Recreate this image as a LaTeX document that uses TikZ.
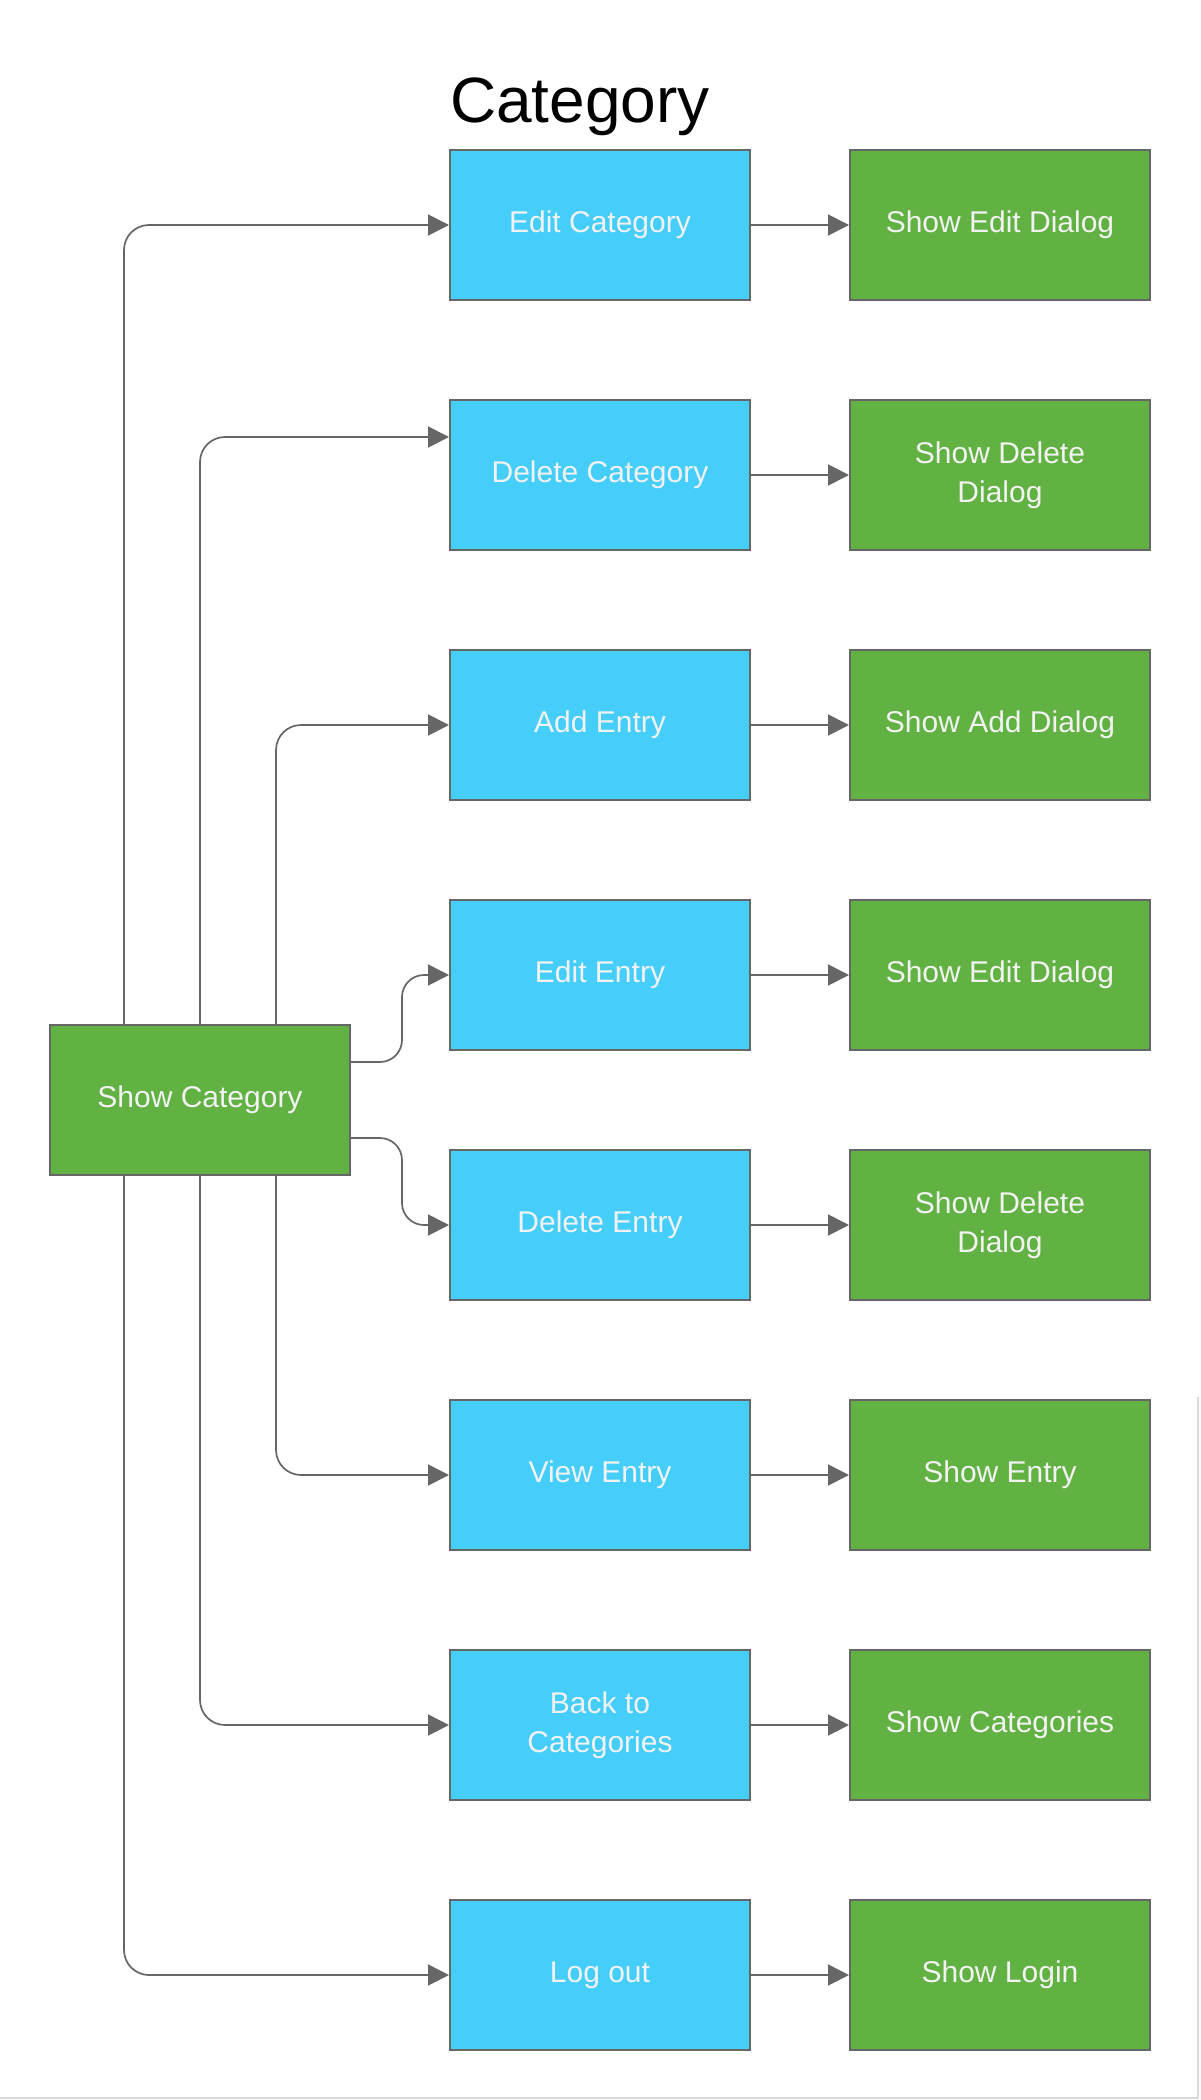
\documentclass[tikz,border=0pt]{standalone}
\usepackage{fontspec}
\setmainfont{Liberation Sans}
\usetikzlibrary{arrows.meta,calc}
\definecolor{bluefill}{HTML}{45CEF9}
\definecolor{greenfill}{HTML}{62B143}
\definecolor{edgegray}{HTML}{666666}
\definecolor{txt}{HTML}{F2F2F2}
\definecolor{framegray}{HTML}{DADADA}
\begin{document}
\begin{tikzpicture}[x=1pt,y=-1pt,
  box/.style={draw=edgegray, line width=2pt, minimum width=300pt, minimum height=150pt,
    inner sep=0pt, text=txt, font=\fontsize{30}{39}\selectfont, align=center, anchor=north west},
  act/.style={box, fill=bluefill},
  res/.style={box, fill=greenfill},
  conn/.style={draw=edgegray, line width=1.7pt, -{Triangle[length=21pt,width=21pt]}, rounded corners=25pt}]
\fill[white] (0,0) rectangle (1200,2100);
\useasboundingbox (0,0) rectangle (1200,2100);

\node[anchor=base, font=\fontsize{64}{70}\selectfont] (title) at (580,123) {Category};

\node[res] (sc) at (49,1024) {Show Category};

\node[act] (ec) at (449,149) {Edit Category};
\node[act] (dc) at (449,399) {Delete Category};
\node[act] (ae) at (449,649) {Add Entry};
\node[act] (ee) at (449,899) {Edit Entry};
\node[act] (de) at (449,1149) {Delete Entry};
\node[act] (ve) at (449,1399) {View Entry};
\node[act] (bc) at (449,1649) {Back to\\Categories};
\node[act] (lo) at (449,1899) {Log out};

\node[res] (sec) at (849,149) {Show Edit Dialog};
\node[res] (sdc) at (849,399) {Show Delete\\Dialog};
\node[res] (sad) at (849,649) {Show Add Dialog};
\node[res] (see) at (849,899) {Show Edit Dialog};
\node[res] (sde) at (849,1149) {Show Delete\\Dialog};
\node[res] (sen) at (849,1399) {Show Entry};
\node[res] (scs) at (849,1649) {Show Categories};
\node[res] (sl) at (849,1899) {Show Login};

\draw[conn] ([xshift=75pt]sc.north west) |- (ec.west);
\draw[conn] (sc.north) |- ($(dc.north west)!0.25!(dc.south west)$);
\draw[conn] ([xshift=-75pt]sc.north east) |- (ae.west);
\draw[conn, rounded corners=22pt] ($(sc.north east)!0.25!(sc.south east)$) -- ++(51,0) |- (ee.west);
\draw[conn, rounded corners=22pt] ($(sc.north east)!0.75!(sc.south east)$) -- ++(51,0) |- (de.west);
\draw[conn] ([xshift=-75pt]sc.south east) |- (ve.west);
\draw[conn] (sc.south) |- (bc.west);
\draw[conn] ([xshift=75pt]sc.south west) |- (lo.west);

\draw[conn] (ec.east) -- (sec.west);
\draw[conn] (dc.east) -- (sdc.west);
\draw[conn] (ae.east) -- (sad.west);
\draw[conn] (ee.east) -- (see.west);
\draw[conn] (de.east) -- (sde.west);
\draw[conn] (ve.east) -- (sen.west);
\draw[conn] (bc.east) -- (scs.west);
\draw[conn] (lo.east) -- (sl.west);

\draw[framegray, line width=2pt] (1198,1397) -- (1198,2098) -- (0,2098);
\end{tikzpicture}
\end{document}
